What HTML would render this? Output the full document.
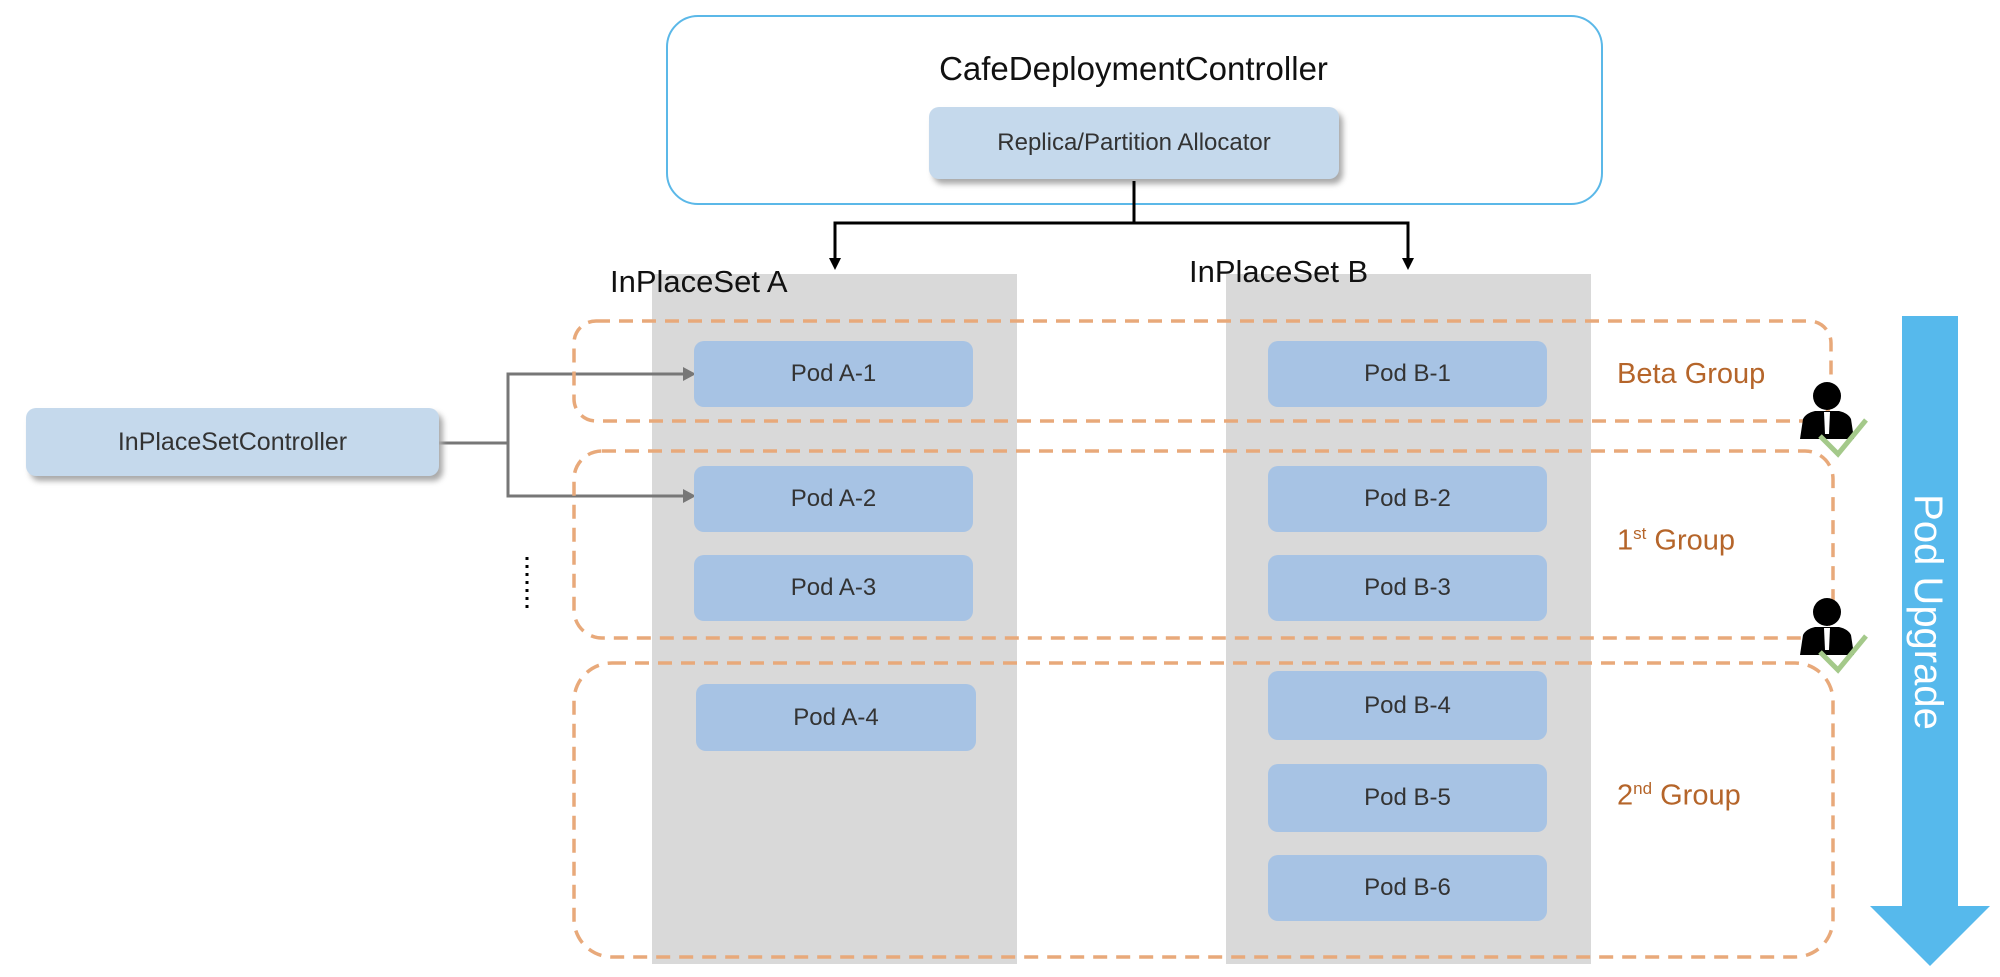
<!DOCTYPE html>
<html><head><meta charset="utf-8"><style>
body{margin:0;width:2000px;height:977px;background:#fff;position:relative;overflow:hidden;font-family:"Liberation Sans",sans-serif}
.a{position:absolute}
.pod{position:absolute;background:#a7c3e4;border-radius:10px;color:#333;font-size:24px;display:flex;align-items:center;justify-content:center}
.col{position:absolute;background:#d9d9d9}
.grp{position:absolute;color:#b5652a;font-size:29px}
</style></head><body>
<div class="a" style="left:666px;top:15px;width:933px;height:186px;border:2px solid #5bb8e8;border-radius:32px"></div>
<div class="a" style="left:666px;top:50px;width:935px;text-align:center;font-size:33px;color:#111">CafeDeploymentController</div>
<div class="a" style="left:929px;top:107px;width:410px;height:72px;background:#c5d9ec;border-radius:10px;box-shadow:4px 5px 6px #aaa;display:flex;align-items:center;justify-content:center;font-size:24px;color:#333">Replica/Partition Allocator</div>
<div class="col" style="left:652px;top:274px;width:365px;height:690px"></div>
<div class="col" style="left:1226px;top:274px;width:365px;height:690px"></div>
<svg class="a" style="left:0;top:0" width="2000" height="977">
<polyline points="1134,181 1134,223 835,223 835,262" fill="none" stroke="#000" stroke-width="3"/>
<polyline points="1134,223 1408,223 1408,262" fill="none" stroke="#000" stroke-width="3"/>
<polygon points="829,258 841,258 835,270" fill="#000"/>
<polygon points="1402,258 1414,258 1408,270" fill="#000"/>
<polyline points="439,443 508,443" stroke="#777" stroke-width="3" fill="none"/>
<polyline points="685,374 508,374 508,496 685,496" stroke="#777" stroke-width="3" fill="none"/>
<polygon points="683,367 696,374 683,381" fill="#777"/>
<polygon points="683,489 696,496 683,503" fill="#777"/>
<line x1="527" y1="557" x2="527" y2="610" stroke="#000" stroke-width="3" stroke-dasharray="3,5"/>
<g fill="none" stroke="#e8a97a" stroke-width="3.5" stroke-dasharray="14,9">
<rect x="574" y="321" width="1257" height="100" rx="22"/>
<rect x="574" y="451" width="1259" height="187" rx="28"/>
<rect x="574" y="663" width="1259" height="294" rx="38"/>
</g>
<rect x="1902" y="316" width="56" height="595" fill="#56b9ec"/>
<polygon points="1870,906 1990,906 1930,966" fill="#56b9ec"/>
<text transform="translate(1915,612) rotate(90)" text-anchor="middle" fill="#fff" font-size="40" font-family="Liberation Sans">Pod Upgrade</text>
<g id="p">
<circle cx="1827" cy="396" r="14" fill="#000"/>
<path d="M1800,439 L1803,419 Q1806,413 1815,411 L1839,411 Q1848,413 1851,419 L1854,439 Z" fill="#000"/>
<path d="M1824,412 L1830,412 L1829,434 L1825,434 Z" fill="#fff"/>
<polyline points="1820,436 1838,454 1866,420" fill="none" stroke="#a4c98a" stroke-width="5"/>
</g>
<use href="#p" transform="translate(0,216)"/>
</svg>
<div class="a" style="left:610px;top:264px;font-size:31px;color:#111">InPlaceSet A</div>
<div class="a" style="left:1189px;top:254px;font-size:31px;color:#111">InPlaceSet B</div>
<div class="a" style="left:26px;top:408px;width:413px;height:68px;background:#c5d9ec;border-radius:10px;box-shadow:4px 5px 6px #aaa;display:flex;align-items:center;justify-content:center;font-size:25px;color:#333">InPlaceSetController</div>
<div class="pod" style="left:694px;top:341px;width:279px;height:66px">Pod A-1</div>
<div class="pod" style="left:694px;top:466px;width:279px;height:66px">Pod A-2</div>
<div class="pod" style="left:694px;top:555px;width:279px;height:66px">Pod A-3</div>
<div class="pod" style="left:696px;top:684px;width:280px;height:67px">Pod A-4</div>
<div class="pod" style="left:1268px;top:341px;width:279px;height:66px">Pod B-1</div>
<div class="pod" style="left:1268px;top:466px;width:279px;height:66px">Pod B-2</div>
<div class="pod" style="left:1268px;top:555px;width:279px;height:66px">Pod B-3</div>
<div class="pod" style="left:1268px;top:671px;width:279px;height:69px">Pod B-4</div>
<div class="pod" style="left:1268px;top:764px;width:279px;height:68px">Pod B-5</div>
<div class="pod" style="left:1268px;top:855px;width:279px;height:66px">Pod B-6</div>
<div class="grp" style="left:1617px;top:358px">Beta Group</div>
<div class="grp" style="left:1617px;top:524px">1<sup style="font-size:17px">st</sup> Group</div>
<div class="grp" style="left:1617px;top:779px">2<sup style="font-size:17px">nd</sup> Group</div>
</body></html>
